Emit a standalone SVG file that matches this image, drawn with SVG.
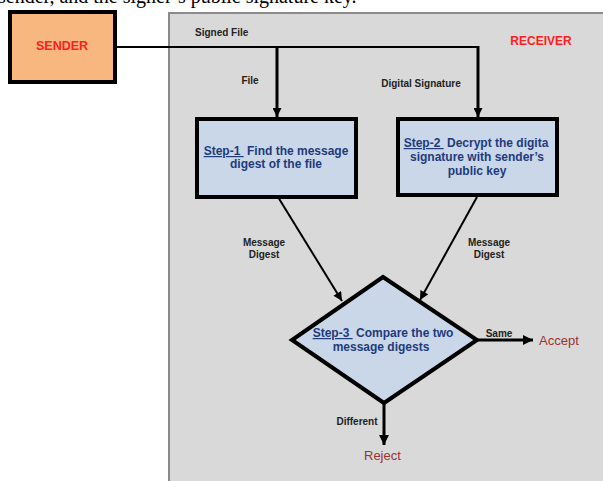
<svg xmlns="http://www.w3.org/2000/svg" width="603" height="481" viewBox="0 0 603 481">
  <style>
    .lbl { font-family: "Liberation Sans", Arial, sans-serif; font-weight: bold; font-size: 10px; fill: #222; }
    .step { font-family: "Liberation Sans", Arial, sans-serif; font-weight: bold; font-size: 12px; fill: #1f3b7d; }
    .red { font-family: "Liberation Sans", Arial, sans-serif; font-weight: bold; fill: #ff2020; }
    .out { font-family: "Liberation Sans", Arial, sans-serif; font-size: 13px; fill: #993333; }
    .box { fill: #c9d7e8; stroke: #000; stroke-width: 4; }
    .wire { fill: none; stroke: #000; }
  </style>
  <defs>
    <marker id="ah" viewBox="0 0 10 10" refX="10" refY="5" markerWidth="10" markerHeight="9" markerUnits="userSpaceOnUse" orient="auto">
      <path d="M0,0 L10,5 L0,10 z" fill="#000"/>
    </marker>
    <marker id="ahw" viewBox="0 0 10 10" refX="10" refY="5" markerWidth="14" markerHeight="10" markerUnits="userSpaceOnUse" orient="auto">
      <path d="M0,0 L10,5 L0,10 z" fill="#000"/>
    </marker>
  </defs>

  <rect width="603" height="481" fill="#fff"/>

  <!-- text line running above the figure, cut by the top edge -->
  <text x="-2" y="3" font-family="'Liberation Serif', 'Times New Roman', serif" font-size="20" fill="#000">sender, and the signer’s public signature key.</text>

  <!-- receiver panel -->
  <g id="receiver">
    <rect x="169" y="13" width="440" height="475" fill="#d9d9d9" stroke="#8a8a8a" stroke-width="2"/>
    <text class="red" x="541" y="45" font-size="12" text-anchor="middle">RECEIVER</text>
  </g>

  <!-- sender -->
  <g id="sender">
    <rect x="10" y="12" width="105" height="70" fill="#f8b77f" stroke="#000" stroke-width="4"/>
    <text class="red" x="62" y="50" font-size="12.5" text-anchor="middle">SENDER</text>
  </g>

  <!-- connectors -->
  <g id="connectors">
    <path class="wire" d="M115,47 H478" stroke-width="2"/>
    <path class="wire" d="M277,47 V117" stroke-width="3" marker-end="url(#ah)"/>
    <path class="wire" d="M478,46 V117" stroke-width="3" marker-end="url(#ah)"/>
    <path class="wire" d="M278,197 L342,301" stroke-width="2" marker-end="url(#ah)"/>
    <path class="wire" d="M477,197 L420,300" stroke-width="2" marker-end="url(#ah)"/>
    <path class="wire" d="M477,340 H533" stroke-width="3" marker-end="url(#ahw)"/>
    <path class="wire" d="M384,403 V445" stroke-width="3" marker-end="url(#ahw)"/>
    <text class="lbl" x="195" y="36">Signed File</text>
    <text class="lbl" x="250" y="84" text-anchor="middle">File</text>
    <text class="lbl" x="421" y="87" text-anchor="middle">Digital Signature</text>
    <text class="lbl" x="264" y="246" text-anchor="middle">Message</text>
    <text class="lbl" x="264" y="258" text-anchor="middle">Digest</text>
    <text class="lbl" x="489" y="246" text-anchor="middle">Message</text>
    <text class="lbl" x="489" y="258" text-anchor="middle">Digest</text>
    <text class="lbl" x="499" y="337" text-anchor="middle">Same</text>
    <text class="lbl" x="357" y="425" text-anchor="middle">Different</text>
  </g>

  <!-- step 1 -->
  <g id="step1">
    <rect class="box" x="197" y="119" width="159" height="78"/>
    <text class="step" x="276" y="155" text-anchor="middle"><tspan text-decoration="underline">Step-1&#160;</tspan>&#160;Find the message</text>
    <text class="step" x="276" y="168" text-anchor="middle">digest of the file</text>
  </g>

  <!-- step 2 -->
  <g id="step2">
    <rect class="box" x="398" y="119" width="159" height="76"/>
    <text class="step" x="476" y="147" text-anchor="middle"><tspan text-decoration="underline">Step-2&#160;</tspan>&#160;Decrypt the digita</text>
    <text class="step" x="477" y="161" text-anchor="middle">signature with sender’s</text>
    <text class="step" x="477" y="175" text-anchor="middle">public key</text>
  </g>

  <!-- step 3 -->
  <g id="step3">
    <path d="M383,277 L477,340 L384,403 L292,340 Z" fill="#c9d7e8" stroke="#000" stroke-width="4" stroke-linejoin="miter"/>
    <text class="step" x="383" y="337" text-anchor="middle"><tspan text-decoration="underline">Step-3&#160;</tspan>&#160;Compare the two</text>
    <text class="step" x="381" y="351" text-anchor="middle">message digests</text>
  </g>

  <!-- outcomes -->
  <g id="accept">
    <text class="out" x="539" y="345">Accept</text>
  </g>
  <g id="reject">
    <text class="out" x="364" y="460">Reject</text>
  </g>
</svg>
